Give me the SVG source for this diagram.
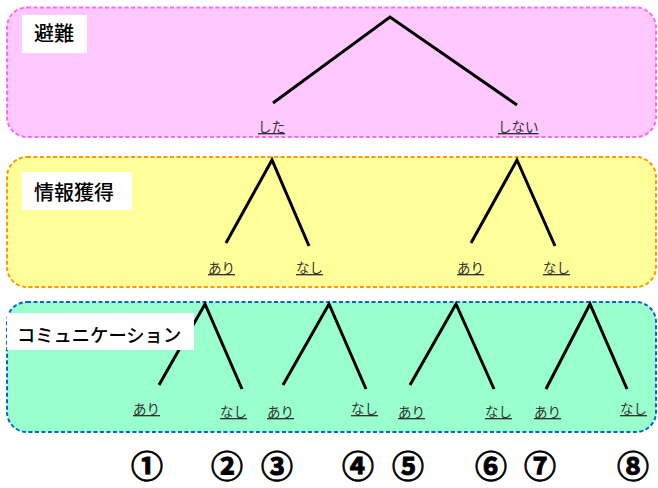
<svg xmlns="http://www.w3.org/2000/svg" width="658" height="488" viewBox="0 0 658 488">
<style>
.band{stroke-width:2;stroke-dasharray:4 2.5}
.lbox{fill:#fff}
.ttl{font-family:"Noto Sans CJK JP","Noto Sans",sans-serif;fill:#000;font-weight:500}
.opt{font-family:"Noto Sans CJK JP","Noto Sans",sans-serif;font-size:13.5px;fill:#333;text-decoration:underline}
.br{stroke:#000;stroke-width:3;fill:none;stroke-linejoin:miter}
.num{font-family:"Noto Sans CJK JP","Noto Sans",sans-serif;font-size:32px;font-weight:bold;fill:#000;stroke:#000;stroke-width:0.9;text-anchor:middle}
</style>
<g id="band-hinan">
<rect class="band" x="7" y="7.5" width="649" height="129.5" rx="20" fill="#FFC9FF" stroke="#FF66FF"/>
<rect class="lbox" x="22" y="15" width="65" height="38"/>
<text class="ttl" x="34" y="41" font-size="20">避難</text>
</g>
<g id="band-joho">
<rect class="band" x="7" y="157" width="649" height="130" rx="20" fill="#FFFF99" stroke="#FF9900"/>
<rect class="lbox" x="22" y="172" width="110" height="38"/>
<text class="ttl" x="34" y="200" font-size="20">情報獲得</text>
</g>
<g id="band-comm">
<rect class="band" x="7" y="302" width="649" height="130" rx="20" fill="#99FFCC" stroke="#0066CC"/>
</g>
<g id="connectors">
<polyline class="br" points="273,103 390,17 517,105"/>
<polyline class="br" points="226,243 272,160 309,246"/>
<polyline class="br" points="471,243 517,160 555,246"/>
<polyline class="br" points="159,385 205,304 242,389"/>
<polyline class="br" points="283,385 329,304 366,389"/>
<polyline class="br" points="410,385 456,304 494,389"/>
<polyline class="br" points="546,389 590,304 627,389"/>
</g>
<g id="comm-label">
<rect class="lbox" x="7" y="313" width="187" height="37"/>
<text class="ttl" x="17" y="342" font-size="18.3">コミュニケーション</text>
</g>
<g id="labels">
<text class="opt" x="258" y="132">した</text>
<text class="opt" x="498" y="132">しない</text>
<text class="opt" x="208" y="273">あり</text>
<text class="opt" x="296" y="273">なし</text>
<text class="opt" x="457" y="273">あり</text>
<text class="opt" x="543" y="273">なし</text>
<text class="opt" x="133" y="414">あり</text>
<text class="opt" x="220" y="417">なし</text>
<text class="opt" x="267" y="417">あり</text>
<text class="opt" x="351" y="414">なし</text>
<text class="opt" x="398" y="417">あり</text>
<text class="opt" x="485" y="417">なし</text>
<text class="opt" x="534" y="417">あり</text>
<text class="opt" x="620" y="414">なし</text>
</g>
<g id="numbers">
<text class="num" x="147" y="478">①</text>
<text class="num" x="227" y="478">②</text>
<text class="num" x="277" y="478">③</text>
<text class="num" x="358" y="478">④</text>
<text class="num" x="408" y="478">⑤</text>
<text class="num" x="491" y="478">⑥</text>
<text class="num" x="540" y="478">⑦</text>
<text class="num" x="633" y="478">⑧</text>
</g>
</svg>
